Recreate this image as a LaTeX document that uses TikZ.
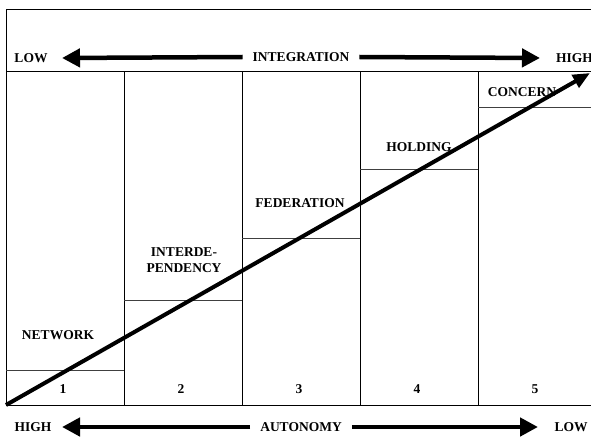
\documentclass[tikz,border=0pt]{standalone}
\usepackage{fontspec}
\setmainfont{Liberation Serif}
\usetikzlibrary{arrows.meta}
\begin{document}
\begin{tikzpicture}[
    x=1pt, y=-1pt,
    lbl/.style={font=\bfseries\fontsize{13.5}{16}\selectfont, inner sep=0pt, align=center},
    axis/.style={lbl, inner xsep=10pt},
    frame/.style={draw, line width=1pt},
    stepline/.style={draw, line width=0.9pt, black!75},
    bigarr/.style={-{Triangle[length=18pt,width=18pt]}, line width=4.5pt},
    diag/.style={-{Triangle[length=17pt,width=14pt]}, line width=4pt}
  ]
    \useasboundingbox (0,0) rectangle (591,441);
    \clip (0,0) rectangle (591,441);

    % frame and columns
    \draw[frame] (596,10) -- (6,10) -- (6,405) -- (596,405);
    \draw[frame] (6,72) -- (596,72);
    \foreach \x in {124,242,360,478,596}
      \draw[frame] (\x,72) -- (\x,405);

    % steps
    \foreach \x/\y in {6/370,124/300,242/238,360/169,478/107}
      \draw[stepline] (\x,\y) -- ++(118,0);

    % stages
    \node[lbl] (network)    at (58,335)  {NETWORK};
    \node[lbl] (interdep)   at (184,260) {INTERDE-\\PENDENCY};
    \node[lbl] (federation) at (300,203) {FEDERATION};
    \node[lbl] (holding)    at (419,147) {HOLDING};
    \node[lbl] (concern)    at (522,92)  {CONCERN};
    \foreach \i in {1,...,5}
      \node[lbl] (n\i) at ({63+118*(\i-1)},389) {\i};

    % integration axis
    \node[lbl]              (lowI)  at (31,58)  {LOW};
    \node[axis]             (integ) at (301,57) {INTEGRATION};
    \node[lbl, anchor=west] (highI) at (556,58) {HIGH};
    \coordinate (tipIL) at (62,58);
    \coordinate (tipIR) at (540,58);
    \draw[bigarr] (integ.west) -- (tipIL);
    \draw[bigarr] (integ.east) -- (tipIR);

    % autonomy axis
    \node[lbl]  (highA) at (33,427)  {HIGH};
    \node[axis] (auton) at (301,427) {AUTONOMY};
    \node[lbl]  (lowA)  at (571,427) {LOW};
    \coordinate (tipAL) at (62,427);
    \coordinate (tipAR) at (538,427);
    \draw[bigarr] (auton.west) -- (tipAL);
    \draw[bigarr] (auton.east) -- (tipAR);

    % growth
    \coordinate (start) at (6,405);
    \coordinate (end)   at (590,73);
    \draw[diag] (start) -- (end);
  \end{tikzpicture}
\end{document}
